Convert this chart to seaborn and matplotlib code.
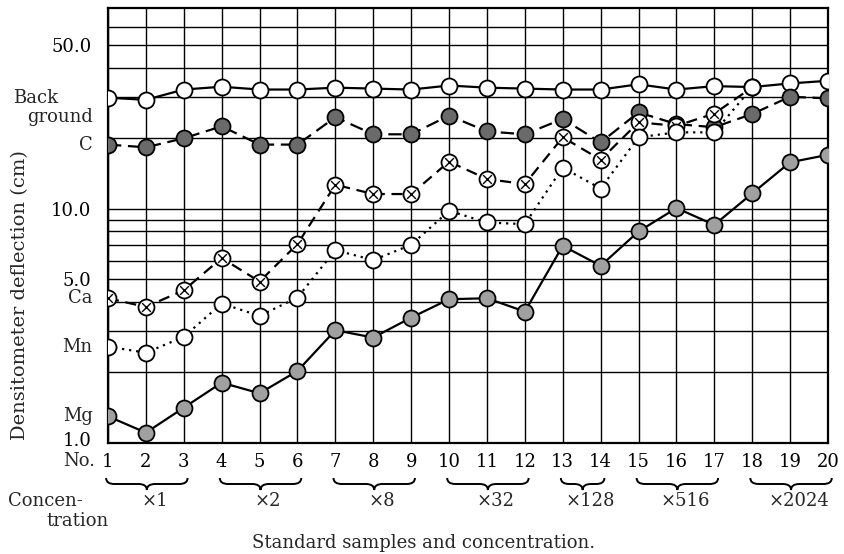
import matplotlib
matplotlib.use("Agg")
import numpy as np
import pandas as pd
import seaborn as sns
import matplotlib.pyplot as plt
import matplotlib.transforms as mtransforms
from matplotlib.path import Path
from matplotlib.patches import PathPatch

# ---------------- data ----------------
samples = list(range(1, 21))
background = [29.8, 29.2, 32.3, 33.2, 32.3, 32.3, 32.9, 32.6, 32.3, 33.6,
              32.9, 32.6, 32.3, 32.3, 34.0, 32.3, 33.4, 33.1, 34.3, 35.2]
carbon = [18.8, 18.3, 20.0, 22.5, 18.8, 18.8, 24.6, 20.8, 20.8, 25.0,
          21.4, 20.8, 24.2, 19.2, 25.8, 23.0, 22.3, 25.4, 30.1, 29.6]
calcium = [4.15, 3.81, 4.49, 6.16, 4.89, 7.07, 12.67, 11.56, 11.56, 15.9,
           13.4, 12.75, 20.2, 16.2, 23.4, 22.6, 25.5, 33.0]
manganese = [2.58, 2.43, 2.84, 3.94, 3.49, 4.18, 6.66, 6.04, 7.02, 9.80,
             8.74, 8.60, 15.0, 12.2, 20.2, 21.2, 21.2, 33.0]
magnesium = [1.30, 1.107, 1.415, 1.81, 1.63, 2.03, 3.03, 2.82, 3.43, 4.11,
             4.15, 3.64, 6.95, 5.71, 8.0, 10.07, 8.54, 11.63, 15.8, 17.0]

group_labels = ["×1", "×2", "×8", "×32", "×128", "×516", "×2024"]
group_first = [1, 4, 7, 10, 13, 15, 18]
group_last = [3, 6, 9, 12, 14, 17, 20]

grid_values = [1, 2, 3, 4, 5, 6, 7, 8, 9, 10, 20, 30, 40, 50, 60]
labelled_ticks = {1: "1.0", 5: "5.0", 10: "10.0", 50: "50.0"}

# ---------------- style ----------------
sns.set_theme(style="white")
plt.rcParams["font.family"] = ["DejaVu Serif"]
FS = 13
plt.rcParams["font.size"] = FS

W, H = 845, 554
fig = plt.figure(figsize=(W / 100, H / 100), dpi=100)
ax = fig.add_axes([108 / W, 1 - 443 / H, 720 / W, 435 / H])

series = [
    ("Back ground", background, dict(linestyle="-", markerfacecolor="white")),
    ("C", carbon, dict(linestyle=(0, (6, 3)), markerfacecolor="#6a6a6a")),
    ("Ca", calcium, dict(linestyle=(0, (5, 3)), markerfacecolor="white")),
    ("Mn", manganese, dict(linestyle=(0, (1, 2.2)), markerfacecolor="white")),
    ("Mg", magnesium, dict(linestyle="-", markerfacecolor="#a0a0a0")),
]

for i, (name, vals, st) in enumerate(series):
    df = pd.DataFrame({"sample": samples[:len(vals)], "value": vals})
    sns.lineplot(data=df, x="sample", y="value", ax=ax, color="black",
                 linewidth=1.6, marker="o", markersize=11.5,
                 markeredgecolor="black", markeredgewidth=1.3,
                 zorder=5 + i, **st)
    if name == "Ca":
        sns.scatterplot(data=df, x="sample", y="value", ax=ax, marker="x",
                        s=40, color="black", linewidth=1.0, zorder=5 + i + 0.5)

ax.set_yscale("log")
ax.set_xlim(1, 20)
ax.set_ylim(1, 72)
ax.set_xticks(samples)
ax.set_xticklabels([str(s) for s in samples])
ax.set_yticks(grid_values)
ax.set_yticklabels([labelled_ticks.get(v, "") for v in grid_values])
ax.yaxis.set_minor_locator(matplotlib.ticker.NullLocator())
ax.tick_params(axis="both", length=0, labelsize=FS, colors="black")
ax.tick_params(axis="y", pad=12)
ax.tick_params(axis="x", pad=7)
ax.grid(True, color="black", linewidth=1.0)
ax.set_xlabel("")
ax.set_ylabel("")
for sp in ax.spines.values():
    sp.set_color("black")
    sp.set_linewidth(1.6)
    sp.set_visible(True)

# lift the "1.0" label slightly so it clears "No."
shift = mtransforms.ScaledTranslation(0, 4 / 100, fig.dpi_scale_trans)
ylabels = ax.get_yticklabels()
ylabels[0].set_transform(ylabels[0].get_transform() + shift)

# series names on the left, at first value
for name, vals, st in series:
    if name == "Back ground":
        ax.annotate("Back", xy=(0, vals[0]), xycoords=("axes fraction", "data"),
                    xytext=(-36, 0), textcoords="offset points",
                    ha="right", va="center", fontsize=FS)
        ax.annotate("ground", xy=(0, vals[0]), xycoords=("axes fraction", "data"),
                    xytext=(-11, -14), textcoords="offset points",
                    ha="right", va="center", fontsize=FS)
    else:
        ax.annotate(name, xy=(0, vals[0]), xycoords=("axes fraction", "data"),
                    xytext=(-11, 0), textcoords="offset points",
                    ha="right", va="center", fontsize=FS)

ax.annotate("No.", xy=(0, 0), xycoords="axes fraction", xytext=(-9, -13),
            textcoords="offset points", ha="right", va="center", fontsize=FS)

# braces and concentration labels
tr = mtransforms.blended_transform_factory(ax.transData, fig.transFigure)
ytop, ymid, ybot = 1 - 478 / H, 1 - 484 / H, 1 - 490 / H
for lab, a, b in zip(group_labels, group_first, group_last):
    x0, x1 = a - 0.05, b + 0.1
    xm = (x0 + x1) / 2
    e = 0.22
    verts = [(x0, ytop), (x0, ymid), (x0 + e, ymid),
             (xm - e, ymid),
             (xm, ymid), (xm, ybot),
             (xm, ymid), (xm + e, ymid),
             (x1 - e, ymid),
             (x1, ymid), (x1, ytop)]
    codes = [Path.MOVETO, Path.CURVE3, Path.CURVE3,
             Path.LINETO,
             Path.CURVE3, Path.CURVE3,
             Path.CURVE3, Path.CURVE3,
             Path.LINETO,
             Path.CURVE3, Path.CURVE3]
    fig.add_artist(PathPatch(Path(verts, codes), transform=tr, fill=False,
                             edgecolor="black", linewidth=1.4))
    fig.text(xm + 0.2, 1 - 501 / H, lab, transform=tr, ha="center",
             va="center", fontsize=FS)

fig.text(8 / W, 1 - 501 / H, "Concen-", ha="left", va="center", fontsize=FS)
fig.text(46 / W, 1 - 521 / H, "tration", ha="left", va="center", fontsize=FS)
fig.text(424 / W, 1 - 543 / H, "Standard samples and concentration.",
         ha="center", va="center", fontsize=FS)
fig.text(20 / W, 1 - 295 / H, "Densitometer deflection (cm)", rotation=90,
         ha="center", va="center", fontsize=14)

fig.savefig("out.png", dpi=100, facecolor="white")
